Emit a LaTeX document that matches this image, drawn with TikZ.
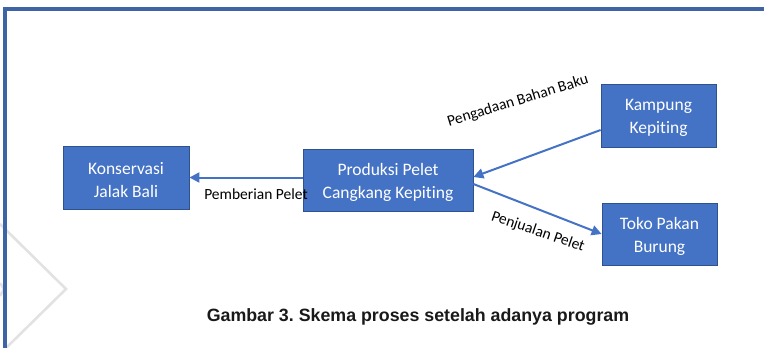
\documentclass[tikz,border=0pt]{standalone}
\usepackage{fontspec}
\setmainfont[Ligatures=NoCommon]{Carlito}
\newfontfamily\capfont{Liberation Sans}
\usetikzlibrary{arrows.meta}
\definecolor{boxfill}{HTML}{4472C4}
\definecolor{boxline}{HTML}{2F528F}
\definecolor{framec}{HTML}{3F64A6}
\definecolor{wmark}{HTML}{E2E2E2}
\frenchspacing
\newcommand{\tstrut}{\rule{0pt}{17pt}}
\tikzset{
  procbox/.style={draw=boxline, line width=0.8pt, fill=boxfill, text=white, align=center,
    inner sep=0pt, font=\fontsize{17.5}{23}\selectfont},
  flow/.style={draw=boxfill, line width=2pt, -{Triangle[length=10pt,width=10pt]}},
  lbl/.style={font=\fontsize{15.5}{18}\selectfont, text=black, inner sep=0pt},
}
\begin{document}
\begin{tikzpicture}[x=1pt,y=-1pt]
\useasboundingbox (0,0) rectangle (764,348);
% watermark
\draw[wmark, line width=2.6pt] (0,224) -- (66,289) -- (6,348);
\draw[wmark, line width=2.6pt] (0,283) -- (4,289) -- (0,296);
% frame
\draw[framec, line width=3.6pt] (5,360) -- (5,9) -- (770,9);
% boxes
\node[procbox, minimum width=126pt, minimum height=63pt] (kons) at (126,177.5) {\tstrut Konservasi\\Jalak Bali};
\node[procbox, minimum width=170pt, minimum height=62pt] (prod) at (388,180) {\tstrut Produksi Pelet\\Cangkang Kepiting};
\node[procbox, minimum width=115pt, minimum height=63pt] (kamp) at (658.5,115.5) {\tstrut Kampung\\Kepiting};
\node[procbox, minimum width=115pt, minimum height=62pt] (toko) at (659.5,234) {\tstrut Toko Pakan\\Burung};
% connectors
\draw[flow] ([yshift=2.5pt]prod.west) -- (kons.east);
\draw[flow] ([yshift=-14.5pt]kamp.west) -- ([yshift=3pt]prod.east);
\draw[flow] ([yshift=-4pt]prod.east) -- (toko.west);
% labels
\node[lbl] (l1) at (256,194) {Pemberian Pelet};
\node[lbl, rotate=17] (l2) at (518,101) {Pengadaan Bahan Baku};
\node[lbl, rotate=-19] (l3) at (538,232) {Penjualan Pelet};
% caption
\node[font=\capfont\bfseries\fontsize{17.8}{20}\selectfont, text=black!90, inner sep=0pt] (cap) at (418,317) {Gambar 3. Skema proses setelah adanya program};
\end{tikzpicture}
\end{document}
